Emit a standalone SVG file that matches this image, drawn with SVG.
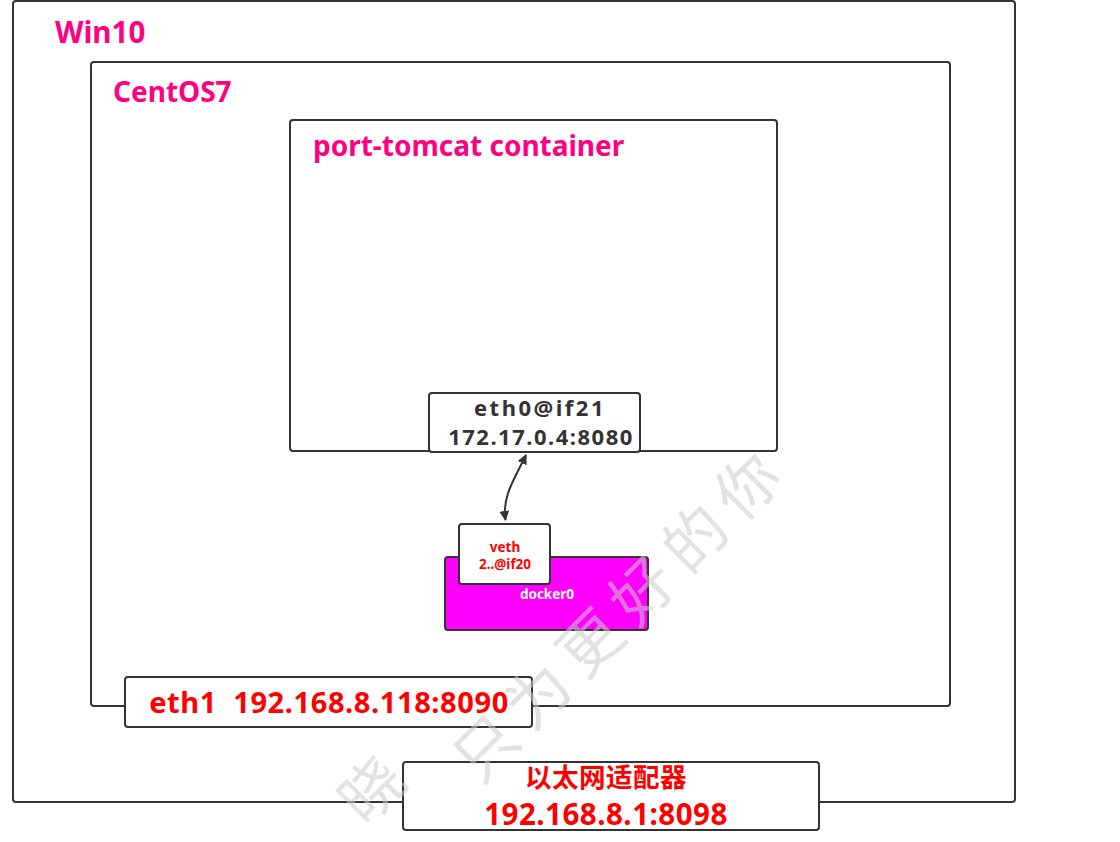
<svg xmlns="http://www.w3.org/2000/svg" width="1120" height="842" viewBox="0 0 1120 842">
  <style>
    .box { fill: #ffffff; stroke: #333333; stroke-width: 2; }
    .frame { fill: none; stroke: #333333; stroke-width: 2; }
    .title { font-family: "Noto Sans", "Open Sans", "Liberation Sans", sans-serif; font-weight: bold; font-size: 28px; fill: #ff0080; }
    .gray { font-family: "Noto Sans", "Open Sans", "Liberation Sans", sans-serif; font-weight: bold; font-size: 22px; fill: #333333; text-anchor: middle; letter-spacing: 1.5px; }
    .red { font-family: "Noto Sans", "Noto Sans CJK SC", "Liberation Sans", sans-serif; font-weight: bold; font-size: 29px; fill: #ff0000; text-anchor: middle; }
    .small { font-family: "Noto Sans", "Open Sans", "Liberation Sans", sans-serif; font-weight: bold; font-size: 13.5px; text-anchor: middle; }
    .wm { font-family: "Noto Sans CJK SC", "Noto Sans CJK JP", sans-serif; font-size: 62px; fill: #cccccc; opacity: 0.55; letter-spacing: 12px; }
    .conn { fill: none; stroke: #333333; stroke-width: 2; }
  </style>
  <defs>
    <marker id="arrow" viewBox="0 0 10 10" refX="9" refY="5" markerWidth="5" markerHeight="5" orient="auto-start-reverse" markerUnits="strokeWidth">
      <path d="M0,0 L10,5 L0,10 Z" fill="#333333"/>
    </marker>
  </defs>
  <rect width="1120" height="842" fill="#ffffff"/>

  <g id="win10">
    <rect class="frame" x="13" y="1" width="1002" height="801" rx="3"/>
    <text class="title" x="55" y="43" style="font-size:29.5px">Win10</text>
  </g>

  <g id="centos7">
    <rect class="frame" x="91" y="62" width="859" height="644" rx="3"/>
    <text class="title" x="113" y="102">CentOS7</text>
  </g>

  <g id="container">
    <rect class="box" x="290" y="120" width="487" height="331" rx="3"/>
    <text class="title" x="313" y="156">port-tomcat container</text>
  </g>

  <g id="eth0">
    <rect class="box" x="429" y="393" width="211" height="59" rx="3"/>
    <text class="gray" x="540" y="416" style="letter-spacing:2.5px">eth0@if21</text>
    <text class="gray" x="541" y="445">172.17.0.4:8080</text>
  </g>

  <g id="docker0">
    <rect x="445" y="557" width="203" height="73" rx="3" fill="#ff00ff" stroke="#333333" stroke-width="2"/>
    <text class="small" x="547" y="599" fill="#ffffff">docker0</text>
  </g>

  <g id="veth">
    <rect class="box" x="459" y="524" width="91" height="60" rx="3"/>
    <text class="small" x="505" y="552" fill="#ff0000">veth</text>
    <text class="small" x="505" y="569" fill="#ff0000">2..@if20</text>
  </g>

  <g id="eth1">
    <rect class="box" x="125" y="677" width="407" height="50" rx="3"/>
    <text class="red" x="329" y="713" style="letter-spacing:0.6px">eth1&#160;&#160;192.168.8.118:8090</text>
  </g>

  <g id="adapter">
    <rect class="box" x="403" y="762" width="416" height="68" rx="3"/>
    <text class="red" x="606" y="787" style="font-size:26.5px;letter-spacing:0.5px">以太网适配器</text>
    <text class="red" x="606" y="825" style="font-size:29.5px;letter-spacing:0.5px">192.168.8.1:8098</text>
  </g>

  <g id="connectors">
    <path class="conn" d="M526,455 C514,480 502,496 505.5,520" marker-start="url(#arrow)" marker-end="url(#arrow)"/>
  </g>

  <g id="watermark">
    <text class="wm" transform="translate(486,748) rotate(-45)" x="-31" y="22">只为更好的你</text>
    <text class="wm" transform="translate(372,790) rotate(-45)" x="-31" y="22">晓</text>
  </g>
</svg>
